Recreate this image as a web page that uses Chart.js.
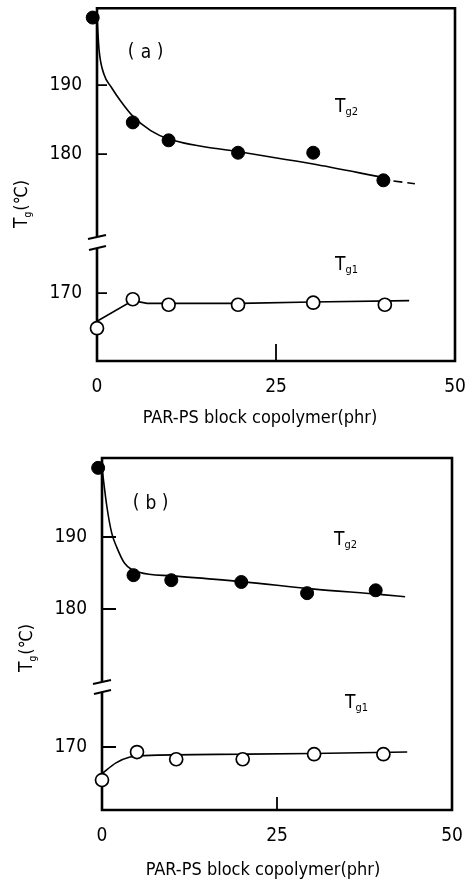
<!DOCTYPE html>
<html>
<head>
<meta charset="utf-8">
<script src="https://cdn.jsdelivr.net/npm/chart.js@4/dist/chart.umd.min.js"></script>
<style>
body { margin: 0; background: #fff; width: 470px; height: 885px; overflow: hidden; }
.panel { position: absolute; left: 0; width: 470px; }
</style>
</head>
<body>
<div class="panel" style="top:0;height:440px"><canvas id="chartA" width="470" height="440"></canvas></div>
<div class="panel" style="top:440px;height:445px"><canvas id="chartB" width="470" height="445"></canvas></div>
<script>
// tick labels
const xTicks = [0, 25, 50]
const yTicksUpper = [180, 190]
const yTicksLower = [170]

// (a) measured points
const aTg2X = [-0.6, 5, 10, 19.7, 30.2, 40]
const aTg2Y = [199.8, 184.6, 182.0, 180.2, 180.2, 176.2]
const aTg1X = [0, 5, 10, 19.7, 30.2, 40.2]
const aTg1Y = [164.9, 169.1, 168.3, 168.3, 168.6, 168.3]
// (a) drawn trend lines
const aFit2X = [0, 0.3, 1.0, 2, 3.3, 5, 7.5, 10, 20, 30, 40]
const aFit2Y = [199.8, 195, 191.5, 189.7, 187.7, 185.5, 183.4, 182.2, 180.3, 178.6, 176.6]
const aDashX = [41.4, 44.4]
const aDashY = [176.1, 175.7]
const aFit1X = [0, 5, 7, 20, 30, 43.6]
const aFit1Y = [165.9, 168.9, 168.5, 168.5, 168.7, 168.9]

// (b) measured points
const bTg2X = [-0.55, 4.5, 9.9, 19.9, 29.3, 39.1]
const bTg2Y = [199.6, 184.7, 184.0, 183.75, 182.2, 182.6]
const bTg1X = [0, 5, 10.6, 20.1, 30.3, 40.2]
const bTg1Y = [165.4, 169.3, 168.3, 168.3, 169.0, 169.0]
// (b) drawn trend lines
const bFit2X = [0, 0.7, 1.4, 2.1, 3.2, 5.3, 10, 20, 30, 40, 43.3]
const bFit2Y = [199.6, 194.2, 190.5, 188.6, 186.4, 185.1, 184.6, 183.8, 182.8, 182.0, 181.7]
const bFit1X = [0, 2, 4, 6, 20, 30, 43.6]
const bFit1Y = [166.3, 167.8, 168.6, 168.8, 169.0, 169.1, 169.3]

const FONT = "'DejaVu Sans Condensed', 'DejaVu Sans', sans-serif"
const STRETCH = 'condensed'

function pts(xs, ys) {
	return xs.map((x, i) => ({x: x, y: ys[i]}))
}

// frame, inward ticks, axis break and the texts inside the plot
const decor = {
	id: 'decor',
	beforeDatasetsDraw(chart) {
		const o = chart.options.plugins.decor
		const ctx = chart.ctx
		const a = chart.chartArea
		const yU = chart.scales.yU, yL = chart.scales.yL, x = chart.scales.x
		ctx.save()
		ctx.strokeStyle = '#000'
		ctx.lineCap = 'butt'
		ctx.lineWidth = 2.6
		ctx.beginPath()
		ctx.moveTo(a.left, o.breakTop)
		ctx.lineTo(a.left, a.top)
		ctx.lineTo(a.right, a.top)
		ctx.lineTo(a.right, a.bottom)
		ctx.lineTo(a.left, a.bottom)
		ctx.lineTo(a.left, o.breakBot)
		ctx.stroke()
		// break caps
		ctx.lineWidth = 2.2
		ctx.beginPath()
		ctx.moveTo(a.left - 9, o.breakTop + 2); ctx.lineTo(a.left + 9, o.breakTop - 2)
		ctx.moveTo(a.left - 8, o.breakBot + 2); ctx.lineTo(a.left + 9, o.breakBot - 2)
		ctx.stroke()
		// inward ticks
		ctx.lineWidth = 1.8
		ctx.beginPath()
		yTicksUpper.forEach(v => { const py = yU.getPixelForValue(v); ctx.moveTo(a.left, py); ctx.lineTo(a.left + o.yTick, py) })
		yTicksLower.forEach(v => { const py = yL.getPixelForValue(v); ctx.moveTo(a.left, py); ctx.lineTo(a.left + o.yTick, py) })
		const px = x.getPixelForValue(25)
		ctx.moveTo(px, a.bottom); ctx.lineTo(px, a.bottom - o.xTick)
		ctx.stroke()
		ctx.restore()
	},
	afterDraw(chart) {
		const o = chart.options.plugins.decor
		const ctx = chart.ctx
		const f = (size) => STRETCH + ' ' + size + 'px ' + FONT
		ctx.save()
		ctx.fillStyle = '#000'
		// panel letter
		ctx.font = f(19)
		ctx.textAlign = 'center'
		ctx.textBaseline = 'middle'
		ctx.fillText('(', o.letter[0] - 15, o.letter[1])
		ctx.fillText(o.letter[2], o.letter[0], o.letter[1] + 1)
		ctx.fillText(')', o.letter[0] + 14, o.letter[1])
		ctx.textBaseline = 'alphabetic'
		ctx.textAlign = 'left'
		// Tg labels
		const tg = (x0, y0, sub) => {
			ctx.font = f(19)
			ctx.fillText('T', x0, y0)
			const w = ctx.measureText('T').width
			ctx.font = f(11)
			ctx.fillText(sub, x0 + w, y0 + 3)
		}
		tg(o.tg2[0], o.tg2[1], 'g2')
		tg(o.tg1[0], o.tg1[1], 'g1')
		// y title, rotated
		ctx.save()
		ctx.translate(o.yTitle[0], o.yTitle[1])
		ctx.rotate(-Math.PI / 2)
		ctx.font = f(19)
		ctx.fillText('T', 0, 0)
		let w = ctx.measureText('T').width
		ctx.font = f(10)
		ctx.fillText('g', w, 4)
		w += ctx.measureText('g').width + 1
		ctx.font = f(18)
		ctx.fillText('(℃)', w, 0)
		ctx.restore()
		// x title
		ctx.font = f(18)
		ctx.textAlign = 'center'
		ctx.textBaseline = 'middle'
		ctx.fillText('PAR-PS block copolymer(phr)', o.xTitle[0], o.xTitle[1])
		ctx.restore()
	}
}

function makePanel(id, d, lay) {
	const datasets = [
		{data: pts(d.tg2X, d.tg2Y), yAxisID: 'yU', showLine: false, pointRadius: 6.5,
			pointBackgroundColor: '#000', pointBorderColor: '#000', pointBorderWidth: 1, clip: false},
		{data: pts(d.tg1X, d.tg1Y), yAxisID: 'yL', showLine: false, pointRadius: 6.5,
			pointBackgroundColor: '#fff', pointBorderColor: '#000', pointBorderWidth: 1.7, clip: false},
		{data: pts(d.fit2X, d.fit2Y), yAxisID: 'yU', showLine: true, pointRadius: 0,
			borderColor: '#000', borderWidth: 1.6, cubicInterpolationMode: 'monotone', clip: false},
		{data: pts(d.fit1X, d.fit1Y), yAxisID: 'yL', showLine: true, pointRadius: 0,
			borderColor: '#000', borderWidth: 1.6, tension: lay.fit1Tension, cubicInterpolationMode: lay.fit1Mode, clip: false}
	]
	if (d.dashX) {
		datasets.push({data: pts(d.dashX, d.dashY), yAxisID: 'yU', showLine: true, pointRadius: 0,
			borderColor: '#000', borderWidth: 1.6, borderDash: [9, 5], clip: false})
	}
	const tickFont = {family: FONT, size: 19, style: STRETCH}
	const yAxis = (min, max, weight, ticks) => ({
		type: 'linear', position: 'left', stack: 'tg', stackWeight: weight,
		min: min, max: max,
		afterBuildTicks: s => { s.ticks = ticks.map(v => ({value: v})) },
		afterFit: s => { s.width = lay.left; s.paddingTop = 0; s.paddingBottom = 0 },
		grid: {display: false, drawTicks: false},
		border: {display: false},
		ticks: {color: '#000', font: tickFont, padding: 15}
	})
	return new Chart(document.getElementById(id), {
		type: 'scatter',
		data: {datasets: datasets},
		options: {
			responsive: false,
			animation: false,
			events: [],
			layout: {padding: {top: lay.top, right: lay.right, left: 0, bottom: 0}},
			plugins: {
				legend: {display: false},
				tooltip: {enabled: false},
				decor: lay.decor
			},
			scales: {
				x: {
					type: 'linear', min: 0, max: 50,
					afterBuildTicks: s => { s.ticks = xTicks.map(v => ({value: v})) },
					afterFit: s => { s.height = lay.bottom; s.paddingLeft = 0; s.paddingRight = 0 },
					grid: {display: false, drawTicks: false},
					border: {display: false},
					ticks: {color: '#000', font: tickFont, padding: 15, maxRotation: 0}
				},
				// lower axis first: stacked left axes are placed bottom-up
				yL: yAxis(lay.lower[0], lay.lower[1], lay.lower[2], yTicksLower),
				yU: yAxis(lay.upper[0], lay.upper[1], lay.upper[2], yTicksUpper)
			}
		},
		plugins: [decor]
	})
}

makePanel('chartA',
	{tg2X: aTg2X, tg2Y: aTg2Y, tg1X: aTg1X, tg1Y: aTg1Y, fit2X: aFit2X, fit2Y: aFit2Y,
		fit1X: aFit1X, fit1Y: aFit1Y, dashX: aDashX, dashY: aDashY},
	{left: 97, top: 8, right: 15, bottom: 79,
		upper: [167.17, 201.16, 234.5], lower: [160.14, 177.32, 118.5],
		fit1Tension: 0, fit1Mode: 'default',
		decor: {breakTop: 237, breakBot: 248, yTick: 10, xTick: 17,
			letter: [146, 52, 'a'], tg2: [335, 112], tg1: [335, 270],
			yTitle: [27, 228], xTitle: [260, 418]}})

makePanel('chartB',
	{tg2X: bTg2X, tg2Y: bTg2Y, tg1X: bTg1X, tg1Y: bTg1Y, fit2X: bFit2X, fit2Y: bFit2Y,
		fit1X: bFit1X, fit1Y: bFit1Y},
	{left: 102, top: 18, right: 18, bottom: 75,
		upper: [169.17, 200.97, 229], lower: [161.25, 178.33, 123],
		fit1Tension: 0.4, fit1Mode: 'monotone',
		decor: {breakTop: 242, breakBot: 252, yTick: 14, xTick: 13,
			letter: [151, 63, 'b'], tg2: [334, 105], tg1: [345, 268],
			yTitle: [32, 232], xTitle: [263, 430]}})
</script>
</body>
</html>
